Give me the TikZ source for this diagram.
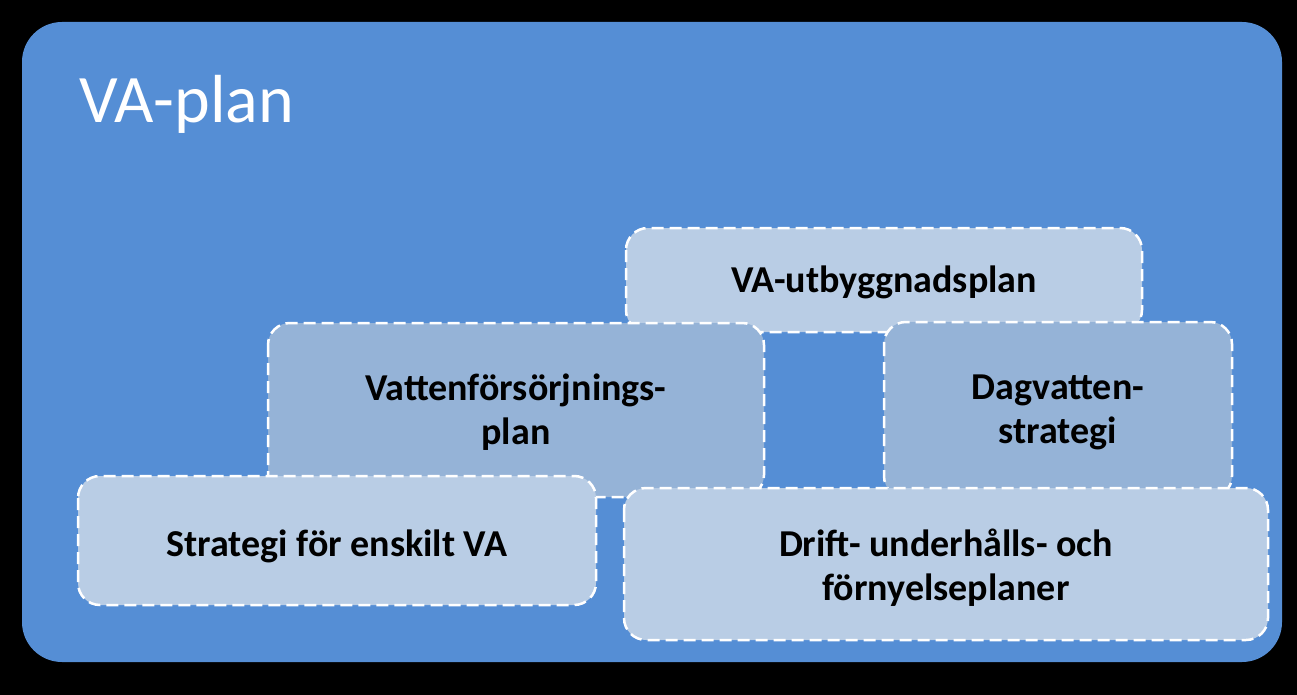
\documentclass[tikz,border=0pt]{standalone}
\usepackage{fontspec}
\setmainfont{Carlito}
\definecolor{bgblue}{HTML}{558ED5}
\definecolor{lightb}{HTML}{B9CDE5}
\definecolor{medb}{HTML}{95B3D7}
\begin{document}
\begin{tikzpicture}[x=1pt,y=-1pt,
  box/.style={draw=white,line width=2.5pt,dash pattern=on 12pt off 6pt,rounded corners=22pt},
  lbl/.style={font=\fontsize{38}{44}\selectfont\bfseries,align=center,text=black}]
\fill[black] (0,0) rectangle (1297,695);
\fill[bgblue,rounded corners=40pt] (22,22) rectangle (1282,662);
\node[anchor=west,text=white,font=\fontsize{68}{72}\selectfont] (title) at (76,104) {VA-plan};
\filldraw[box,fill=lightb] (626,228) rectangle (1142,332);
\node[lbl] (a) at (884,282) {VA-utbyggnadsplan};
\filldraw[box,fill=medb] (268,323) rectangle (764,497);
\node[lbl] (b) at (516,412) {Vattenförsörjnings-\\plan};
\filldraw[box,fill=medb] (884,322) rectangle (1232,498);
\node[lbl] (c) at (1058,412) {Dagvatten-\\strategi};
\filldraw[box,fill=lightb] (78,476) rectangle (596,605);
\node[lbl] (d) at (337,546) {Strategi för enskilt VA};
\filldraw[box,fill=lightb] (624,488) rectangle (1268,640);
\node[lbl] (e) at (946,568) {Drift- underhålls- och\\förnyelseplaner};
\end{tikzpicture}
\end{document}
